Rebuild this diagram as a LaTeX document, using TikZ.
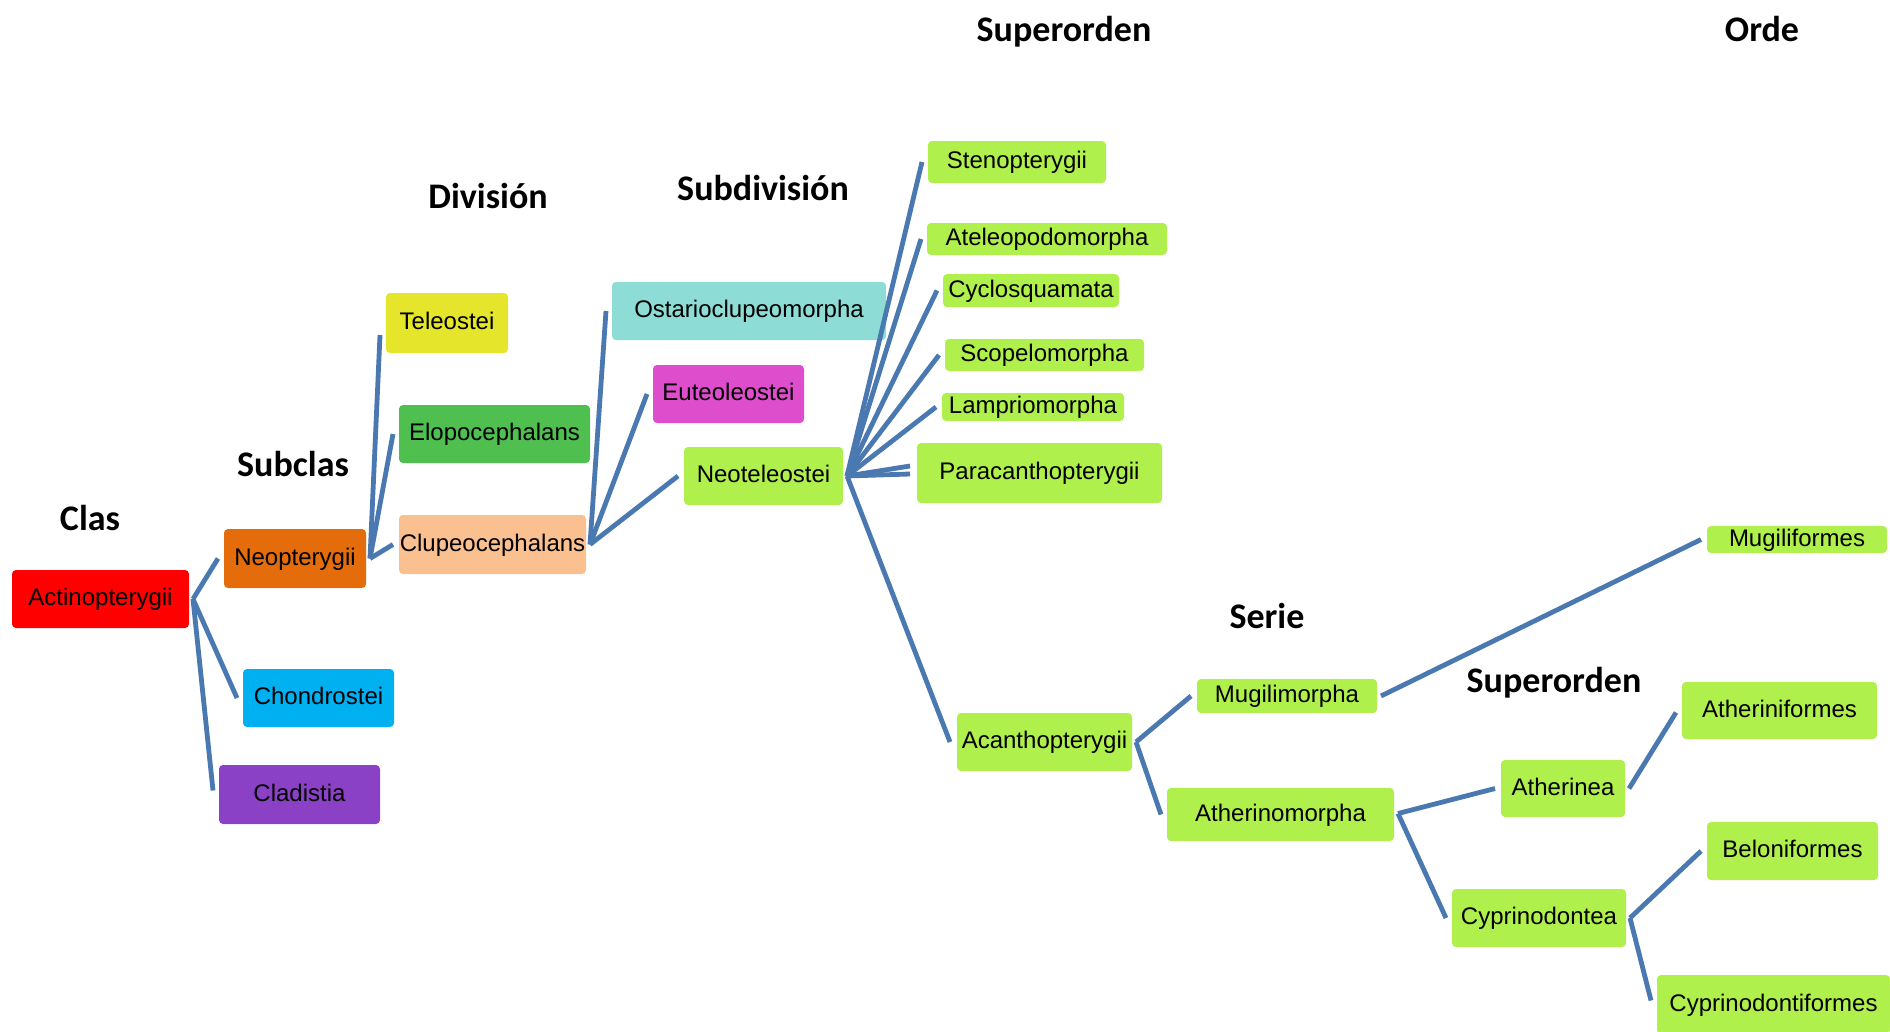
\documentclass[tikz,border=0pt]{standalone}
\usepackage{fontspec}
\setmainfont{Liberation Sans}
\newfontfamily\labfont{Carlito}
\definecolor{linkblue}{HTML}{4A78B0}
\definecolor{cRed}{HTML}{FF0000}
\definecolor{cOrange}{HTML}{E46C0A}
\definecolor{cCyan}{HTML}{00B0F0}
\definecolor{cPurple}{HTML}{8B41C6}
\definecolor{cYellow}{HTML}{E5E52B}
\definecolor{cGreen}{HTML}{4FBF50}
\definecolor{cPeach}{HTML}{FAC08F}
\definecolor{cTeal}{HTML}{8DDCD5}
\definecolor{cMagenta}{HTML}{DE4DCB}
\definecolor{cLime}{HTML}{B0F04C}
\begin{document}
\begin{tikzpicture}[x=1pt,y=-1pt,
  box/.style={rectangle, rounded corners=4pt, inner sep=0pt, outer xsep=4pt, outer ysep=0pt,
    text=black, text height=17.5pt, text depth=4.5pt, font=\fontsize{24}{28}\selectfont},
  lime/.style={box, fill=cLime},
  link/.style={draw=linkblue, line width=4.8pt},
  lab/.style={anchor=base, inner sep=0pt, font=\labfont\bfseries\fontsize{36}{40}\selectfont}]
\useasboundingbox (0,0) rectangle (1890,1031);

% level labels
\node[lab] (lclas) at (90,530) {Clas};
\node[lab] (lsubclas) at (293,476) {Subclas};
\node[lab] (ldiv) at (488,208) {División};
\node[lab] (lsubdiv) at (763,200) {Subdivisión};
\node[lab] (lsuper) at (1064,41) {Superorden};
\node[lab] (lorde) at (1762,41) {Orde};
\node[lab] (lserie) at (1267,628) {Serie};
\node[lab] (lsuper2) at (1554,692) {Superorden};

% boxes
\node[box, fill=cRed, minimum width=177pt, minimum height=58pt] (act) at (100.5,599) {Actinopterygii};
\node[box, fill=cOrange, minimum width=142pt, minimum height=59pt] (neo) at (295,558.5) {Neopterygii};
\node[box, fill=cCyan, minimum width=151pt, minimum height=58pt] (chon) at (318.5,698) {Chondrostei};
\node[box, fill=cPurple, minimum width=161pt, minimum height=59pt] (clad) at (299.5,794.5) {Cladistia};
\node[box, fill=cYellow, minimum width=122pt, minimum height=60pt] (tel) at (447,323) {Teleostei};
\node[box, fill=cGreen, minimum width=191pt, minimum height=58pt] (elo) at (494.5,434) {Elopocephalans};
\node[box, fill=cPeach, minimum width=187pt, minimum height=59pt] (clu) at (492.5,544.5) {Clupeocephalans};
\node[box, fill=cTeal, minimum width=274pt, minimum height=58pt] (ost) at (749,311) {Ostarioclupeomorpha};
\node[box, fill=cMagenta, minimum width=151pt, minimum height=58pt] (eut) at (728.5,394) {Euteoleostei};
\node[lime, minimum width=159pt, minimum height=58pt] (neot) at (763.5,476) {Neoteleostei};
\node[lime, minimum width=178pt, minimum height=42pt] (sten) at (1017,162) {Stenopterygii};
\node[lime, minimum width=240pt, minimum height=32pt] (atel) at (1047,239) {Ateleopodomorpha};
\node[lime, minimum width=176pt, minimum height=33pt] (cyc) at (1031,290.5) {Cyclosquamata};
\node[lime, minimum width=199pt, minimum height=32pt] (sco) at (1044.5,355) {Scopelomorpha};
\node[lime, minimum width=182pt, minimum height=28pt] (lam) at (1033,407) {Lampriomorpha};
\node[lime, minimum width=245pt, minimum height=60pt] (par) at (1039.5,473) {Paracanthopterygii};
\node[lime, minimum width=175pt, minimum height=58pt] (acan) at (1044.5,742) {Acanthopterygii};
\node[lime, minimum width=180pt, minimum height=34pt] (mugm) at (1287,696) {Mugilimorpha};
\node[lime, minimum width=227pt, minimum height=53pt] (athm) at (1280.5,814.5) {Atherinomorpha};
\node[lime, minimum width=180pt, minimum height=27pt] (mugf) at (1797,539.5) {Mugiliformes};
\node[lime, minimum width=195pt, minimum height=57pt] (athf) at (1779.5,710.5) {Atheriniformes};
\node[lime, minimum width=124pt, minimum height=57pt] (athn) at (1563,788.5) {Atherinea};
\node[lime, minimum width=171pt, minimum height=58pt] (bel) at (1792.5,851) {Beloniformes};
\node[lime, minimum width=174pt, minimum height=58pt] (cypt) at (1539,918) {Cyprinodontea};
\node[lime, minimum width=233pt, minimum height=59pt] (cypf) at (1773.5,1004.5) {Cyprinodontiformes};

% connectors
\draw[link] (act.east) -- ([xshift=-2pt]neo.west);
\draw[link] (act.east) -- ([xshift=-2pt]chon.west);
\draw[link] (act.east) -- ([xshift=-2pt,yshift=4pt]clad.west);
\draw[link] (neo.east) -- ([xshift=-2pt,yshift=-12pt]tel.west);
\draw[link] (neo.east) -- ([xshift=-2pt]elo.west);
\draw[link] (neo.east) -- ([xshift=-2pt]clu.west);
\draw[link] (clu.east) -- ([xshift=-2pt]ost.west);
\draw[link] (clu.east) -- ([xshift=-2pt]eut.west);
\draw[link] (clu.east) -- ([xshift=-2pt]neot.west);
\draw[link] (neot.east) -- ([xshift=-2pt]sten.west);
\draw[link] (neot.east) -- ([xshift=-2pt]atel.west);
\draw[link] (neot.east) -- ([xshift=-2pt]cyc.west);
\draw[link] (neot.east) -- ([xshift=-2pt]sco.west);
\draw[link] (neot.east) -- ([xshift=-2pt]lam.west);
\draw[link] (neot.east) -- ([xshift=-3pt,yshift=7pt]par.west);
\draw[link] (neot.east) -- ([xshift=-3pt,yshift=-1pt]par.west);
\draw[link] (neot.east) -- ([xshift=-3pt]acan.west);
\draw[link] (acan.east) -- ([xshift=-2pt]mugm.west);
\draw[link] (acan.east) -- ([xshift=-2pt]athm.west);
\draw[link] (mugm.east) -- ([xshift=-2pt]mugf.west);
\draw[link] ([yshift=1pt]athm.east) -- ([xshift=-2pt]athn.west);
\draw[link] ([yshift=1pt]athm.east) -- ([xshift=-2pt]cypt.west);
\draw[link] (athn.east) -- ([xshift=-2pt,yshift=-2pt]athf.west);
\draw[link] (cypt.east) -- ([xshift=-2pt]bel.west);
\draw[link] (cypt.east) -- ([xshift=-2pt,yshift=4pt]cypf.west);
\end{tikzpicture}
\end{document}
